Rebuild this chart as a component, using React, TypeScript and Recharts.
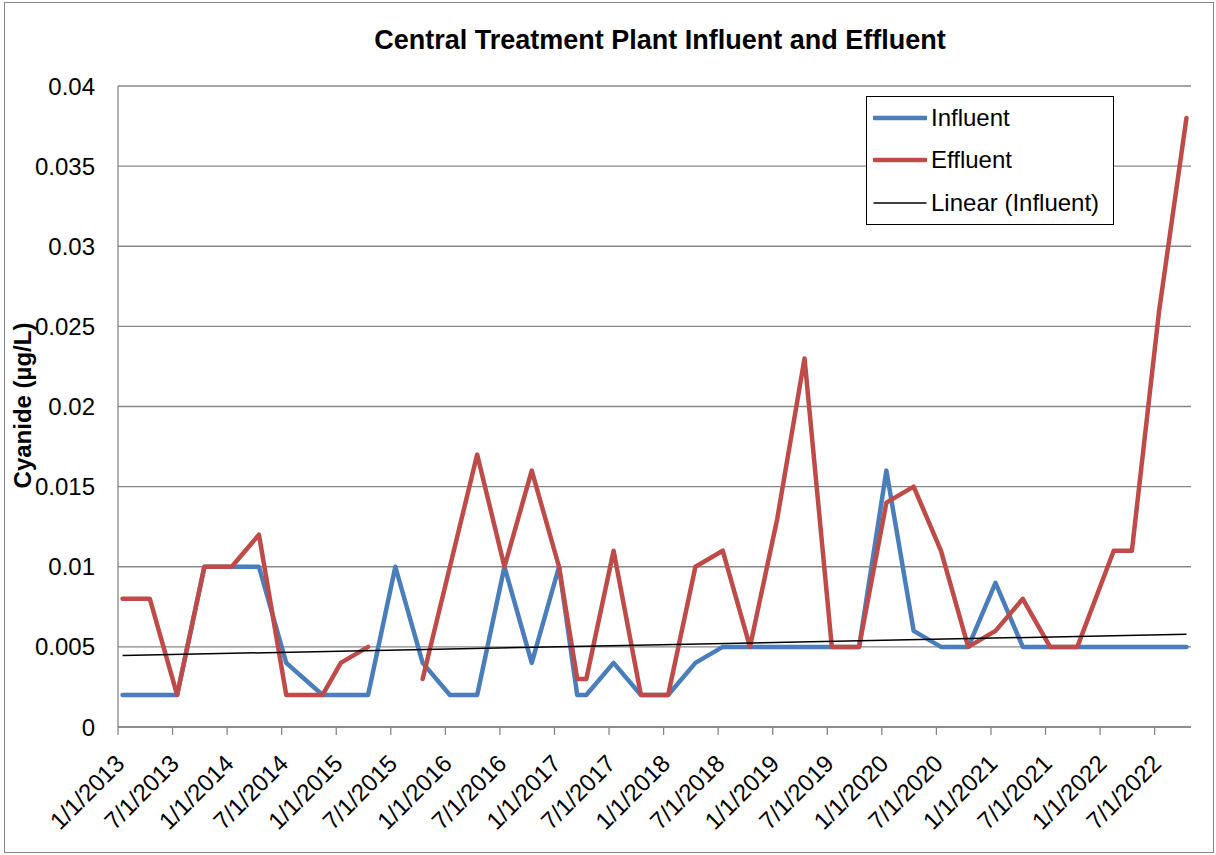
import { LineChart, Line, XAxis, YAxis, CartesianGrid, Legend, Label } from "recharts";

// sample dates (year-month) and cyanide results
const sampleMonths = [
  "2013-01", "2013-04", "2013-07", "2013-10",
  "2014-01", "2014-04", "2014-07", "2014-11",
  "2015-01", "2015-04", "2015-07", "2015-10",
  "2016-01", "2016-04", "2016-07", "2016-10",
  "2017-01", "2017-03", "2017-04", "2017-07", "2017-10",
  "2018-01", "2018-04", "2018-07", "2018-10",
  "2019-01", "2019-04", "2019-07", "2019-10",
  "2020-01", "2020-04", "2020-07", "2020-10",
  "2021-01", "2021-04", "2021-07", "2021-10",
  "2022-02", "2022-04", "2022-07", "2022-10",
];

const influent = [
  0.002, 0.002, 0.002, 0.01,
  0.01, 0.01, 0.004, 0.002,
  0.002, 0.002, 0.01, 0.004,
  0.002, 0.002, 0.01, 0.004,
  0.01, 0.002, 0.002, 0.004, 0.002,
  0.002, 0.004, 0.005, 0.005,
  0.005, 0.005, 0.005, 0.005,
  0.016, 0.006, 0.005, 0.005,
  0.009, 0.005, 0.005, 0.005,
  0.005, 0.005, 0.005, 0.005,
];

const effluent: (number | null)[] = [
  0.008, 0.008, 0.002, 0.01,
  0.01, 0.012, 0.002, 0.002,
  0.004, 0.005, null, 0.003,
  0.01, 0.017, 0.01, 0.016,
  0.01, 0.003, 0.003, 0.011, 0.002,
  0.002, 0.01, 0.011, 0.005,
  0.013, 0.023, 0.005, 0.005,
  0.014, 0.015, 0.011, 0.005,
  0.006, 0.008, 0.005, 0.005,
  0.011, 0.011, 0.026, 0.038,
];

const xTickLabels = [
  "1/1/2013", "7/1/2013", "1/1/2014", "7/1/2014", "1/1/2015",
  "7/1/2015", "1/1/2016", "7/1/2016", "1/1/2017", "7/1/2017",
  "1/1/2018", "7/1/2018", "1/1/2019", "7/1/2019", "1/1/2020",
  "7/1/2020", "1/1/2021", "7/1/2021", "1/1/2022", "7/1/2022",
];

const yTicks = [0, 0.005, 0.01, 0.015, 0.02, 0.025, 0.03, 0.035, 0.04];

const FONT = '"Liberation Sans", Arial, sans-serif';
const BLUE = "#4a7ebb";
const RED = "#be4b48";
const GRID = "#878787";

// month axis (Excel date axis with base unit = months)
const monthIndex = (ym: string) => {
  const [y, m] = ym.split("-").map(Number);
  return (y - 2013) * 12 + (m - 1);
};
const labelIndex = (lbl: string) => {
  const [m, , y] = lbl.split("/").map(Number);
  return (y - 2013) * 12 + (m - 1);
};

const data = sampleMonths.map((ym, i) => ({
  x: monthIndex(ym) + 0.5,
  influent: influent[i],
  effluent: effluent[i],
}));

const xTicks = xTickLabels.map(labelIndex);
const tickLabelAt = new Map(xTicks.map((t, i) => [t, xTickLabels[i]]));

// least squares fit for "Linear (Influent)"
const n = data.length;
const sx = data.reduce((s, d) => s + d.x, 0);
const sy = data.reduce((s, d) => s + d.influent, 0);
const sxx = data.reduce((s, d) => s + d.x * d.x, 0);
const sxy = data.reduce((s, d) => s + d.x * d.influent, 0);
const slope = (n * sxy - sx * sy) / (n * sxx - sx * sx);
const intercept = (sy - slope * sx) / n;
const trendData = [data[0], data[n - 1]].map((d) => ({
  x: d.x,
  trend: intercept + slope * d.x,
}));

function DateTick({ x, y, payload }: any) {
  const ax = x + 8;
  const ay = y + 30;
  return (
    <text
      x={ax}
      y={ay}
      transform={`rotate(-45, ${ax}, ${ay})`}
      textAnchor="end"
      fontSize={24}
      fontFamily={FONT}
      fill="#000"
    >
      {tickLabelAt.get(payload.value)}
    </text>
  );
}

const legendItems = [
  { name: "Influent", color: BLUE, width: 4.5 },
  { name: "Effluent", color: RED, width: 4.5 },
  { name: "Linear (Influent)", color: "#000", width: 1.5 },
];

function LegendBox() {
  return (
    <div
      style={{
        border: "1px solid #000",
        background: "#fff",
        width: 246,
        fontFamily: FONT,
        fontSize: 24,
        color: "#000",
      }}
    >
      {legendItems.map((it) => (
        <div
          key={it.name}
          style={{ height: 42.3, display: "flex", alignItems: "center", paddingLeft: 6 }}
        >
          <svg width={54} height={10} style={{ marginRight: 4 }}>
            <line
              x1={1}
              x2={53}
              y1={5}
              y2={5}
              stroke={it.color}
              strokeWidth={it.width}
              strokeLinecap="round"
            />
          </svg>
          <span style={{ lineHeight: 1 }}>{it.name}</span>
        </div>
      ))}
    </div>
  );
}

export default function App() {
  return (
    <div
      style={{
        position: "absolute",
        left: 0,
        top: 0,
        width: 1216,
        height: 855,
        background: "#fff",
        fontFamily: FONT,
      }}
    >
      <div
        style={{
          position: "absolute",
          left: 4,
          top: 2,
          width: 1208,
          height: 849,
          border: "1px solid #878787",
        }}
      />
      <div
        style={{
          position: "absolute",
          left: 0,
          width: 1320,
          top: 27,
          textAlign: "center",
          fontSize: 27,
          lineHeight: "27px",
          fontWeight: "bold",
          color: "#000",
        }}
      >
        Central Treatment Plant Influent and Effluent
      </div>
      <LineChart
        width={1216}
        height={855}
        data={data}
        margin={{ top: 86, right: 25, bottom: 28, left: 8 }}
        style={{ position: "absolute", left: 0, top: 0 }}
      >
        <CartesianGrid vertical={false} stroke={GRID} strokeWidth={1.3} />
        <XAxis
          dataKey="x"
          type="number"
          domain={[0, 118]}
          ticks={xTicks}
          interval={0}
          height={100}
          tickSize={8}
          tickMargin={0}
          tick={<DateTick />}
          axisLine={{ stroke: GRID, strokeWidth: 1.3 }}
          tickLine={{ stroke: GRID, strokeWidth: 1.3 }}
        />
        <YAxis
          domain={[0, 0.04]}
          ticks={yTicks}
          width={110}
          tickSize={0}
          tickMargin={23}
          tickLine={false}
          axisLine={{ stroke: GRID, strokeWidth: 1.3 }}
          tick={{ fill: "#000", fontSize: 24, fontFamily: FONT }}
        >
          <Label
            content={() => (
              <text
                x={31}
                y={405.5}
                transform="rotate(-90, 31, 405.5)"
                textAnchor="middle"
                fontSize={24}
                fontWeight="bold"
                fontFamily={FONT}
                fill="#000"
              >
                Cyanide (µg/L)
              </text>
            )}
          />
        </YAxis>
        <Legend
          layout="vertical"
          align="center"
          verticalAlign="middle"
          content={() => <LegendBox />}
          wrapperStyle={{ left: 866, top: 96, width: 248 }}
        />
        <Line
          dataKey="influent"
          name="Influent"
          stroke={BLUE}
          strokeWidth={4.5}
          strokeLinejoin="round"
          strokeLinecap="round"
          dot={false}
          isAnimationActive={false}
        />
        <Line
          dataKey="effluent"
          name="Effluent"
          stroke={RED}
          strokeWidth={4.5}
          strokeLinejoin="round"
          strokeLinecap="round"
          dot={false}
          isAnimationActive={false}
        />
        <Line
          data={trendData}
          dataKey="trend"
          name="Linear (Influent)"
          stroke="#000"
          strokeWidth={1.5}
          dot={false}
          isAnimationActive={false}
        />
      </LineChart>
    </div>
  );
}
